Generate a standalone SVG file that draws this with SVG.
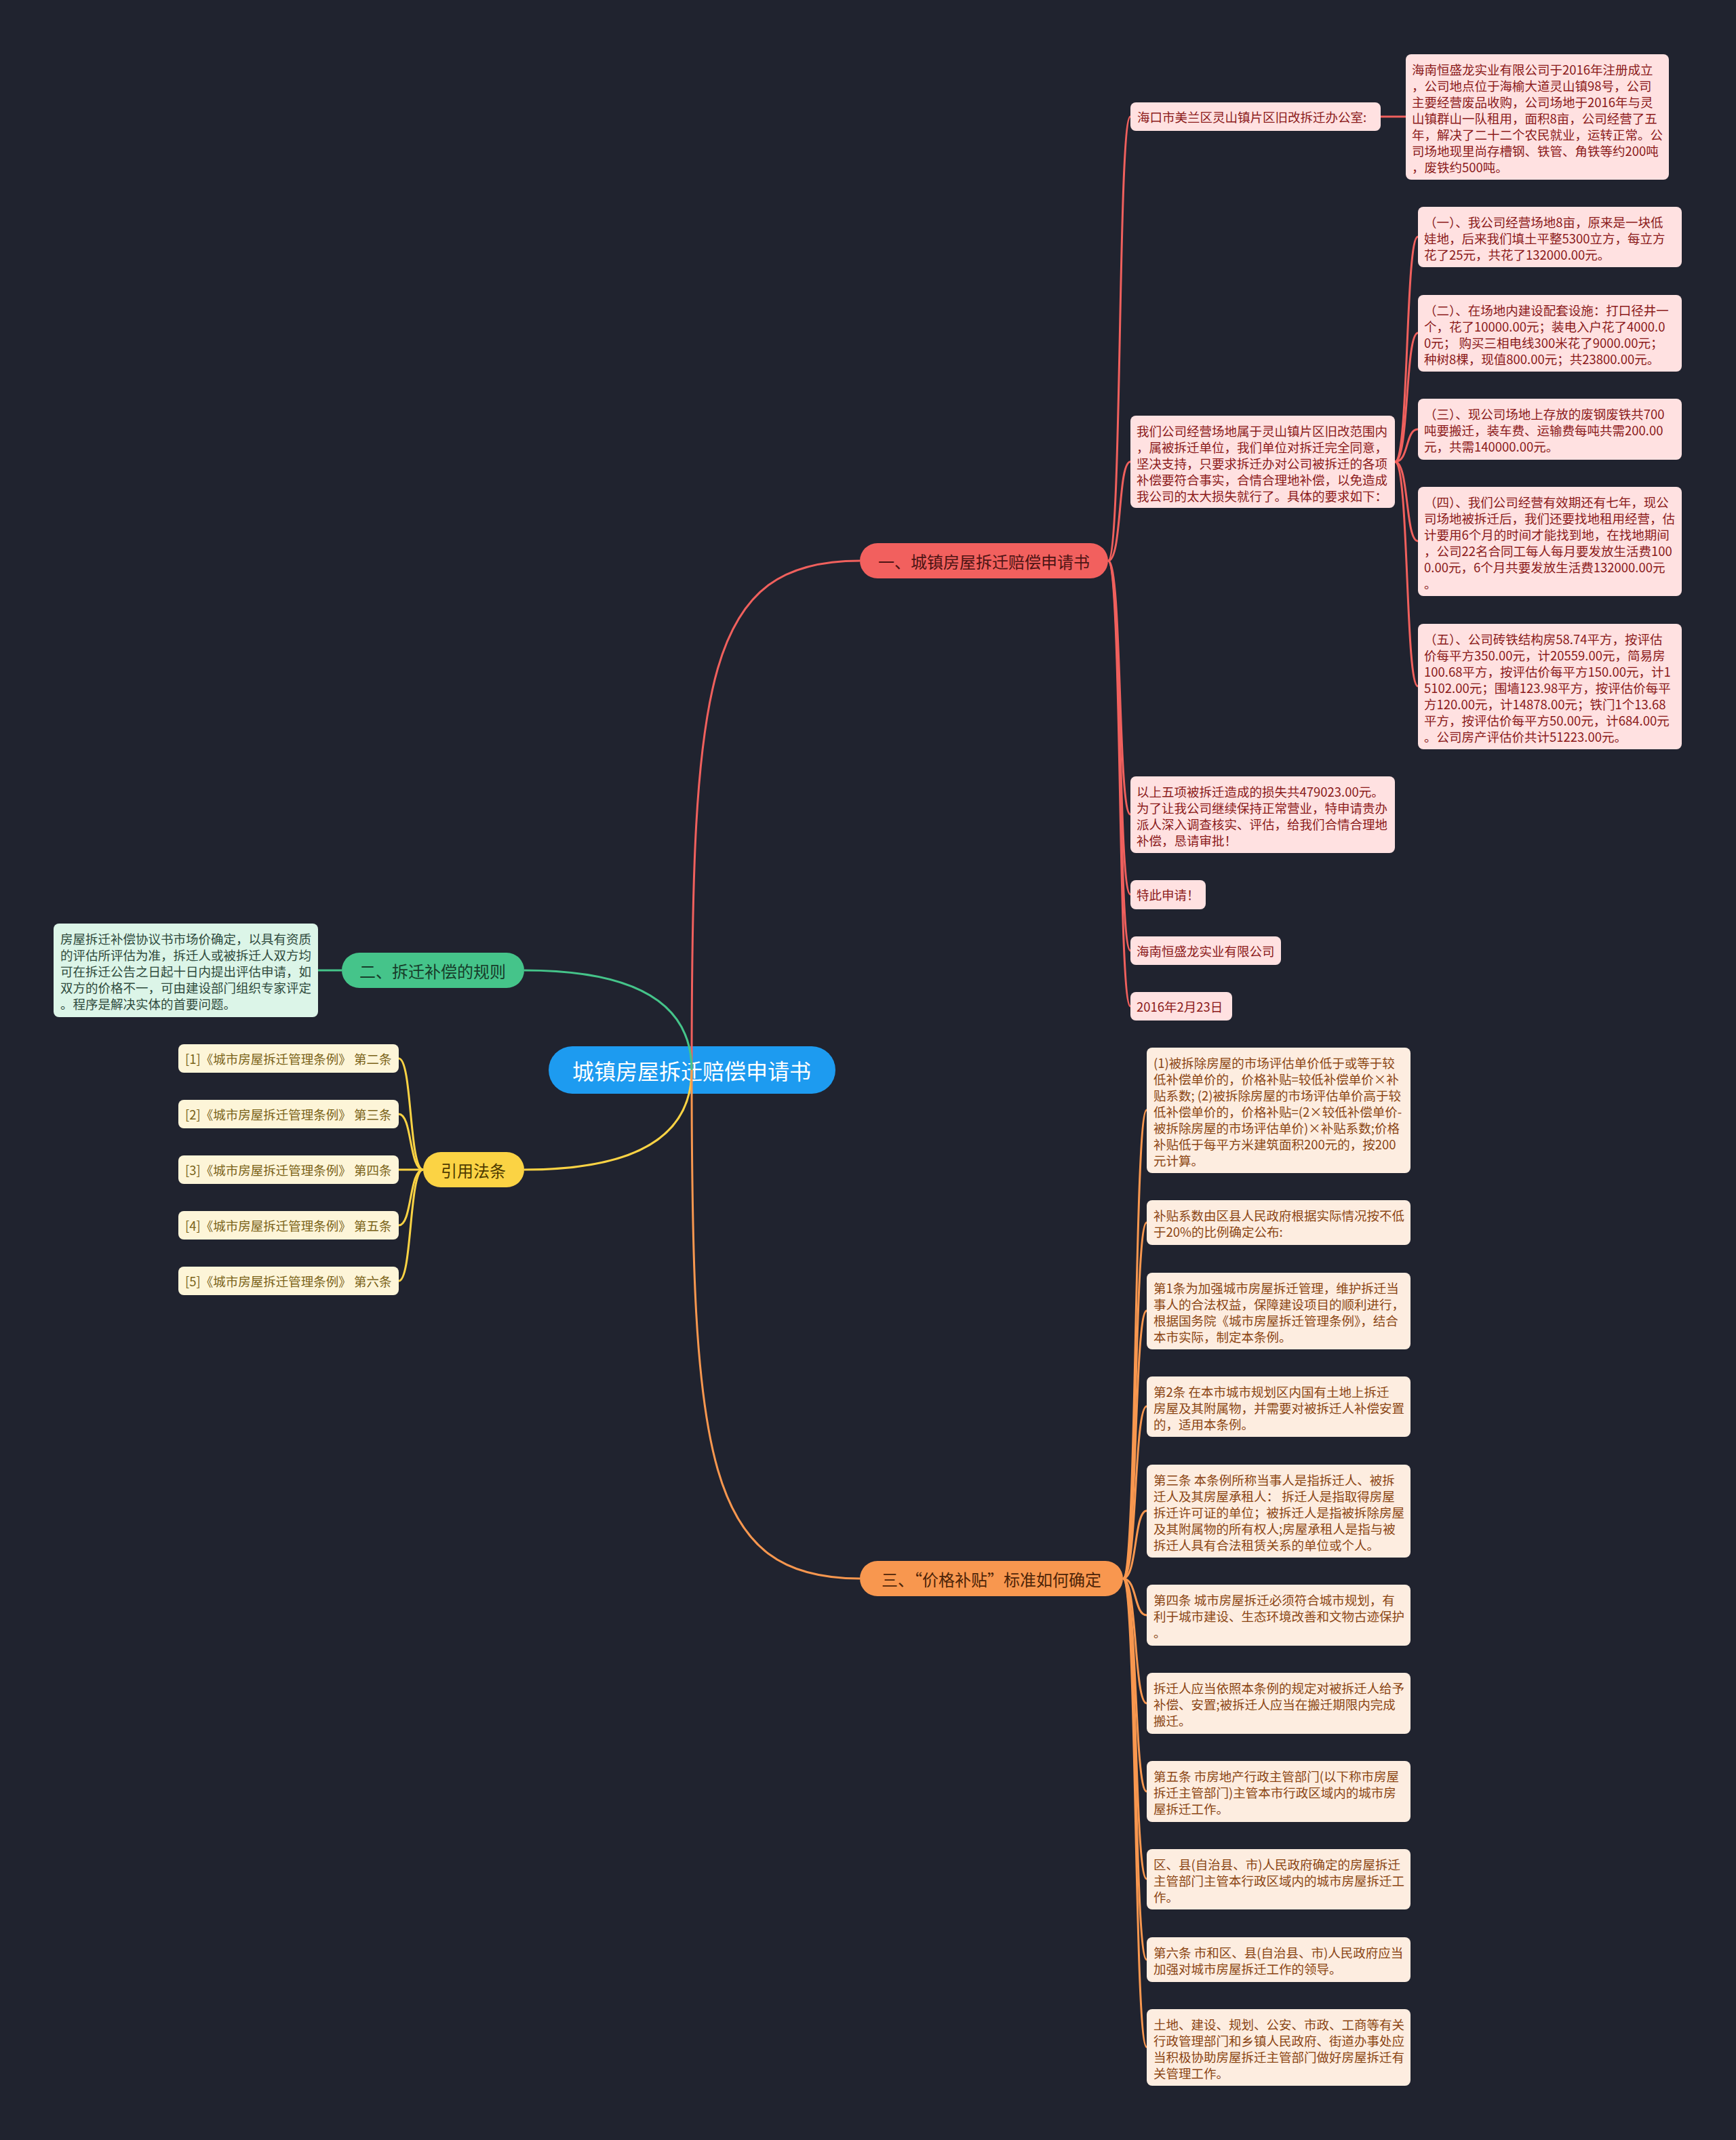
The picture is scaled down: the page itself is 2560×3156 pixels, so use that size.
<svg xmlns="http://www.w3.org/2000/svg" width="2560" height="3156" viewBox="0 0 2560 3156">
<style>
text{font-family:"Noto Sans CJK SC","Noto Sans",sans-serif;dominant-baseline:central}
.bg{fill:#20232f}
.root{fill:#1d9bf0}
.rootT{fill:#ffffff;font-size:32px;text-anchor:middle}
.brT{font-size:24px;text-anchor:middle}
.b1{fill:#f2605e}.b1T{fill:#4d1414}
.b2{fill:#45c48a}.b2T{fill:#173d2a}
.b3{fill:#fbd344}.b3T{fill:#4d3a00}
.b4{fill:#f8974f}.b4T{fill:#4d2408}
.rc{fill:#ffe1e1}.rcT{fill:#8b1a1a;font-size:18.5px}
.oc{fill:#fdede0}.ocT{fill:#8b4513;font-size:18.5px}
.gc{fill:#dcf5e8}.gcT{fill:#2f4a3c;font-size:18.5px}
.yc{fill:#fdf5d8}.ycT{fill:#7a6318;font-size:18.5px}
.lr{fill:none;stroke:#f0605d;stroke-width:3}
.lg{fill:none;stroke:#45c48a;stroke-width:3}
.ly{fill:none;stroke:#fbd344;stroke-width:3}
.lo{fill:none;stroke:#f8974f;stroke-width:3}
</style>
<rect class="bg" x="0" y="0" width="2560" height="3156"/>

<g id="root">
<rect class="root" x="809" y="1543" width="423" height="70" rx="35"/>
<text class="rootT" x="1020" y="1578">城镇房屋拆迁赔偿申请书</text>
</g>

<g id="branch1">
<rect class="b1" x="1268" y="801" width="366" height="52" rx="26"/>
<text class="brT b1T" x="1451" y="827">一、城镇房屋拆迁赔偿申请书</text>
</g>
<g id="branch2">
<rect class="b2" x="504" y="1405" width="269" height="52" rx="26"/>
<text class="brT b2T" x="638" y="1431">二、拆迁补偿的规则</text>
</g>
<g id="branch3">
<rect class="b3" x="624" y="1699" width="149" height="52" rx="26"/>
<text class="brT b3T" x="698" y="1725">引用法条</text>
</g>
<g id="branch4">
<rect class="b4" x="1268" y="2302" width="388" height="52" rx="26"/>
<text class="brT b4T" x="1462" y="2328">三、“价格补贴”标准如何确定</text>
</g>

<g id="r1">
<rect class="rc" x="1667" y="151" width="369" height="42" rx="8"/>
<text class="rcT" x="1677" y="172">海口市美兰区灵山镇片区旧改拆迁办公室:</text>
</g>
<g id="r1a">
<rect class="rc" x="2073" y="80" width="388" height="185" rx="8"/>
<text class="rcT"><tspan x="2082" y="102">海南恒盛龙实业有限公司于2016年注册成立</tspan><tspan x="2082" y="126">，公司地点位于海榆大道灵山镇98号，公司</tspan><tspan x="2082" y="150">主要经营废品收购，公司场地于2016年与灵</tspan><tspan x="2082" y="174">山镇群山一队租用，面积8亩，公司经营了五</tspan><tspan x="2082" y="198">年，解决了二十二个农民就业，运转正常。公</tspan><tspan x="2082" y="222">司场地现里尚存槽钢、铁管、角铁等约200吨</tspan><tspan x="2082" y="246">，废铁约500吨。</tspan></text>
</g>
<g id="r2">
<rect class="rc" x="1667" y="613" width="390" height="136" rx="8"/>
<text class="rcT"><tspan x="1676" y="635">我们公司经营场地属于灵山镇片区旧改范围内</tspan><tspan x="1676" y="659">，属被拆迁单位，我们单位对拆迁完全同意，</tspan><tspan x="1676" y="683">坚决支持，只要求拆迁办对公司被拆迁的各项</tspan><tspan x="1676" y="707">补偿要符合事实，合情合理地补偿，以免造成</tspan><tspan x="1676" y="731">我公司的太大损失就行了。具体的要求如下：</tspan></text>
</g>
<g id="r2a">
<rect class="rc" x="2091" y="305" width="389" height="89" rx="8"/>
<text class="rcT"><tspan x="2100" y="327">（一）、我公司经营场地8亩，原来是一块低</tspan><tspan x="2100" y="351">娃地，后来我们填土平整5300立方，每立方</tspan><tspan x="2100" y="375">花了25元，共花了132000.00元。</tspan></text>
</g>
<g id="r2b">
<rect class="rc" x="2091" y="435" width="389" height="113" rx="8"/>
<text class="rcT"><tspan x="2100" y="457">（二）、在场地内建设配套设施：打口径井一</tspan><tspan x="2100" y="481">个，花了10000.00元；装电入户花了4000.0</tspan><tspan x="2100" y="505">0元； 购买三相电线300米花了9000.00元；</tspan><tspan x="2100" y="529">种树8棵，现值800.00元；共23800.00元。</tspan></text>
</g>
<g id="r2c">
<rect class="rc" x="2091" y="588" width="389" height="90" rx="8"/>
<text class="rcT"><tspan x="2100" y="610">（三）、现公司场地上存放的废钢废铁共700</tspan><tspan x="2100" y="634">吨要搬迁，装车费、运输费每吨共需200.00</tspan><tspan x="2100" y="658">元，共需140000.00元。</tspan></text>
</g>
<g id="r2d">
<rect class="rc" x="2091" y="718" width="389" height="161" rx="8"/>
<text class="rcT"><tspan x="2100" y="740">（四）、我们公司经营有效期还有七年，现公</tspan><tspan x="2100" y="764">司场地被拆迁后，我们还要找地租用经营，估</tspan><tspan x="2100" y="788">计要用6个月的时间才能找到地，在找地期间</tspan><tspan x="2100" y="812">，公司22名合同工每人每月要发放生活费100</tspan><tspan x="2100" y="836">0.00元，6个月共要发放生活费132000.00元</tspan><tspan x="2100" y="860">。</tspan></text>
</g>
<g id="r2e">
<rect class="rc" x="2091" y="920" width="389" height="185" rx="8"/>
<text class="rcT"><tspan x="2100" y="942">（五）、公司砖铁结构房58.74平方，按评估</tspan><tspan x="2100" y="966">价每平方350.00元，计20559.00元，简易房</tspan><tspan x="2100" y="990">100.68平方，按评估价每平方150.00元，计1</tspan><tspan x="2100" y="1014">5102.00元；围墙123.98平方，按评估价每平</tspan><tspan x="2100" y="1038">方120.00元，计14878.00元；铁门1个13.68</tspan><tspan x="2100" y="1062">平方，按评估价每平方50.00元，计684.00元</tspan><tspan x="2100" y="1086">。公司房产评估价共计51223.00元。</tspan></text>
</g>
<g id="r3">
<rect class="rc" x="1667" y="1145" width="390" height="113" rx="8"/>
<text class="rcT"><tspan x="1676" y="1167">以上五项被拆迁造成的损失共479023.00元。</tspan><tspan x="1676" y="1191">为了让我公司继续保持正常营业，特申请贵办</tspan><tspan x="1676" y="1215">派人深入调查核实、评估，给我们合情合理地</tspan><tspan x="1676" y="1239">补偿，恳请审批！</tspan></text>
</g>
<g id="r4">
<rect class="rc" x="1667" y="1298" width="111" height="43" rx="8"/>
<text class="rcT" x="1676" y="1319">特此申请！</text>
</g>
<g id="r5">
<rect class="rc" x="1667" y="1381" width="222" height="42" rx="8"/>
<text class="rcT" x="1676" y="1402">海南恒盛龙实业有限公司</text>
</g>
<g id="r6">
<rect class="rc" x="1667" y="1463" width="150" height="42" rx="8"/>
<text class="rcT" x="1676" y="1484">2016年2月23日</text>
</g>

<g id="g1">
<rect class="gc" x="79" y="1362" width="390" height="138" rx="8"/>
<text class="gcT"><tspan x="89" y="1384">房屋拆迁补偿协议书市场价确定，以具有资质</tspan><tspan x="89" y="1408">的评估所评估为准，拆迁人或被拆迁人双方均</tspan><tspan x="89" y="1432">可在拆迁公告之日起十日内提出评估申请，如</tspan><tspan x="89" y="1456">双方的价格不一，可由建设部门组织专家评定</tspan><tspan x="89" y="1480">。程序是解决实体的首要问题。</tspan></text>
</g>

<g id="y1"><rect class="yc" x="263" y="1540" width="325" height="42" rx="8"/><text class="ycT" x="273" y="1561">[1]《城市房屋拆迁管理条例》 第二条</text></g>
<g id="y2"><rect class="yc" x="263" y="1622" width="325" height="42" rx="8"/><text class="ycT" x="273" y="1643">[2]《城市房屋拆迁管理条例》 第三条</text></g>
<g id="y3"><rect class="yc" x="263" y="1704" width="325" height="42" rx="8"/><text class="ycT" x="273" y="1725">[3]《城市房屋拆迁管理条例》 第四条</text></g>
<g id="y4"><rect class="yc" x="263" y="1786" width="325" height="42" rx="8"/><text class="ycT" x="273" y="1807">[4]《城市房屋拆迁管理条例》 第五条</text></g>
<g id="y5"><rect class="yc" x="263" y="1868" width="325" height="42" rx="8"/><text class="ycT" x="273" y="1889">[5]《城市房屋拆迁管理条例》 第六条</text></g>

<g id="o1"><rect class="oc" x="1691" y="1545" width="389" height="185" rx="8"/>
<text class="ocT"><tspan x="1701" y="1567">(1)被拆除房屋的市场评估单价低于或等于较</tspan><tspan x="1701" y="1591">低补偿单价的，价格补贴=较低补偿单价×补</tspan><tspan x="1701" y="1615">贴系数; (2)被拆除房屋的市场评估单价高于较</tspan><tspan x="1701" y="1639">低补偿单价的，价格补贴=(2×较低补偿单价-</tspan><tspan x="1701" y="1663">被拆除房屋的市场评估单价)×补贴系数;价格</tspan><tspan x="1701" y="1687">补贴低于每平方米建筑面积200元的，按200</tspan><tspan x="1701" y="1711">元计算。</tspan></text></g>
<g id="o2"><rect class="oc" x="1691" y="1770" width="389" height="66" rx="8"/>
<text class="ocT"><tspan x="1701" y="1792">补贴系数由区县人民政府根据实际情况按不低</tspan><tspan x="1701" y="1816">于20%的比例确定公布:</tspan></text></g>
<g id="o3"><rect class="oc" x="1691" y="1877" width="389" height="113" rx="8"/>
<text class="ocT"><tspan x="1701" y="1899">第1条为加强城市房屋拆迁管理，维护拆迁当</tspan><tspan x="1701" y="1923">事人的合法权益，保障建设项目的顺利进行，</tspan><tspan x="1701" y="1947">根据国务院《城市房屋拆迁管理条例》，结合</tspan><tspan x="1701" y="1971">本市实际，制定本条例。</tspan></text></g>
<g id="o4"><rect class="oc" x="1691" y="2030" width="389" height="89" rx="8"/>
<text class="ocT"><tspan x="1701" y="2052">第2条  在本市城市规划区内国有土地上拆迁</tspan><tspan x="1701" y="2076">房屋及其附属物，并需要对被拆迁人补偿安置</tspan><tspan x="1701" y="2100">的，适用本条例。</tspan></text></g>
<g id="o5"><rect class="oc" x="1691" y="2160" width="389" height="137" rx="8"/>
<text class="ocT"><tspan x="1701" y="2182">第三条 本条例所称当事人是指拆迁人、被拆</tspan><tspan x="1701" y="2206">迁人及其房屋承租人：  拆迁人是指取得房屋</tspan><tspan x="1701" y="2230">拆迁许可证的单位；被拆迁人是指被拆除房屋</tspan><tspan x="1701" y="2254">及其附属物的所有权人;房屋承租人是指与被</tspan><tspan x="1701" y="2278">拆迁人具有合法租赁关系的单位或个人。</tspan></text></g>
<g id="o6"><rect class="oc" x="1691" y="2337" width="389" height="90" rx="8"/>
<text class="ocT"><tspan x="1701" y="2359">第四条 城市房屋拆迁必须符合城市规划，有</tspan><tspan x="1701" y="2383">利于城市建设、生态环境改善和文物古迹保护</tspan><tspan x="1701" y="2407">。</tspan></text></g>
<g id="o7"><rect class="oc" x="1691" y="2467" width="389" height="90" rx="8"/>
<text class="ocT"><tspan x="1701" y="2489">拆迁人应当依照本条例的规定对被拆迁人给予</tspan><tspan x="1701" y="2513">补偿、安置;被拆迁人应当在搬迁期限内完成</tspan><tspan x="1701" y="2537">搬迁。</tspan></text></g>
<g id="o8"><rect class="oc" x="1691" y="2597" width="389" height="90" rx="8"/>
<text class="ocT"><tspan x="1701" y="2619">第五条  市房地产行政主管部门(以下称市房屋</tspan><tspan x="1701" y="2643">拆迁主管部门)主管本市行政区域内的城市房</tspan><tspan x="1701" y="2667">屋拆迁工作。</tspan></text></g>
<g id="o9"><rect class="oc" x="1691" y="2727" width="389" height="89" rx="8"/>
<text class="ocT"><tspan x="1701" y="2749">区、县(自治县、市)人民政府确定的房屋拆迁</tspan><tspan x="1701" y="2773">主管部门主管本行政区域内的城市房屋拆迁工</tspan><tspan x="1701" y="2797">作。</tspan></text></g>
<g id="o10"><rect class="oc" x="1691" y="2857" width="389" height="66" rx="8"/>
<text class="ocT"><tspan x="1701" y="2879">第六条 市和区、县(自治县、市)人民政府应当</tspan><tspan x="1701" y="2903">加强对城市房屋拆迁工作的领导。</tspan></text></g>
<g id="o11"><rect class="oc" x="1691" y="2963" width="389" height="113" rx="8"/>
<text class="ocT"><tspan x="1701" y="2985">土地、建设、规划、公安、市政、工商等有关</tspan><tspan x="1701" y="3009">行政管理部门和乡镇人民政府、街道办事处应</tspan><tspan x="1701" y="3033">当积极协助房屋拆迁主管部门做好房屋拆迁有</tspan><tspan x="1701" y="3057">关管理工作。</tspan></text></g>

<g id="connectors">
<path class="lr" d="M1020 1578 C1020 1000 1040 827 1268 827"/>
<path class="lg" d="M1020 1578 Q1020 1431 773 1431"/>
<path class="ly" d="M1020 1578 Q1020 1725 773 1725"/>
<path class="lo" d="M1020 1578 C1020 2150 1040 2328 1268 2328"/>
<path class="lr" d="M1634 827 C1655 827 1648 172 1667 172"/>
<path class="lr" d="M1634 827 C1655 827 1648 681 1667 681"/>
<path class="lr" d="M1634 827 C1655 827 1648 1201 1667 1201"/>
<path class="lr" d="M1634 827 C1655 827 1648 1319 1667 1319"/>
<path class="lr" d="M1634 827 C1655 827 1648 1402 1667 1402"/>
<path class="lr" d="M1634 827 C1655 827 1648 1484 1667 1484"/>
<path class="lr" d="M2036 172 L2073 172"/>
<path class="lr" d="M2057 681 C2078 681 2072 349 2091 349"/>
<path class="lr" d="M2057 681 C2078 681 2072 491 2091 491"/>
<path class="lr" d="M2057 681 C2078 681 2072 633 2091 633"/>
<path class="lr" d="M2057 681 C2078 681 2072 798 2091 798"/>
<path class="lr" d="M2057 681 C2078 681 2072 1012 2091 1012"/>
<path class="lg" d="M504 1431 L469 1431"/>
<path class="ly" d="M624 1725 C603 1725 608 1561 588 1561"/>
<path class="ly" d="M624 1725 C603 1725 608 1643 588 1643"/>
<path class="ly" d="M624 1725 L588 1725"/>
<path class="ly" d="M624 1725 C603 1725 608 1807 588 1807"/>
<path class="ly" d="M624 1725 C603 1725 608 1889 588 1889"/>
<path class="lo" d="M1656 2328 C1677 2328 1672 1637 1691 1637"/>
<path class="lo" d="M1656 2328 C1677 2328 1672 1803 1691 1803"/>
<path class="lo" d="M1656 2328 C1677 2328 1672 1933 1691 1933"/>
<path class="lo" d="M1656 2328 C1677 2328 1672 2074 1691 2074"/>
<path class="lo" d="M1656 2328 C1677 2328 1672 2228 1691 2228"/>
<path class="lo" d="M1656 2328 C1677 2328 1672 2382 1691 2382"/>
<path class="lo" d="M1656 2328 C1677 2328 1672 2512 1691 2512"/>
<path class="lo" d="M1656 2328 C1677 2328 1672 2642 1691 2642"/>
<path class="lo" d="M1656 2328 C1677 2328 1672 2771 1691 2771"/>
<path class="lo" d="M1656 2328 C1677 2328 1672 2890 1691 2890"/>
<path class="lo" d="M1656 2328 C1677 2328 1672 3019 1691 3019"/>
</g>
</svg>
